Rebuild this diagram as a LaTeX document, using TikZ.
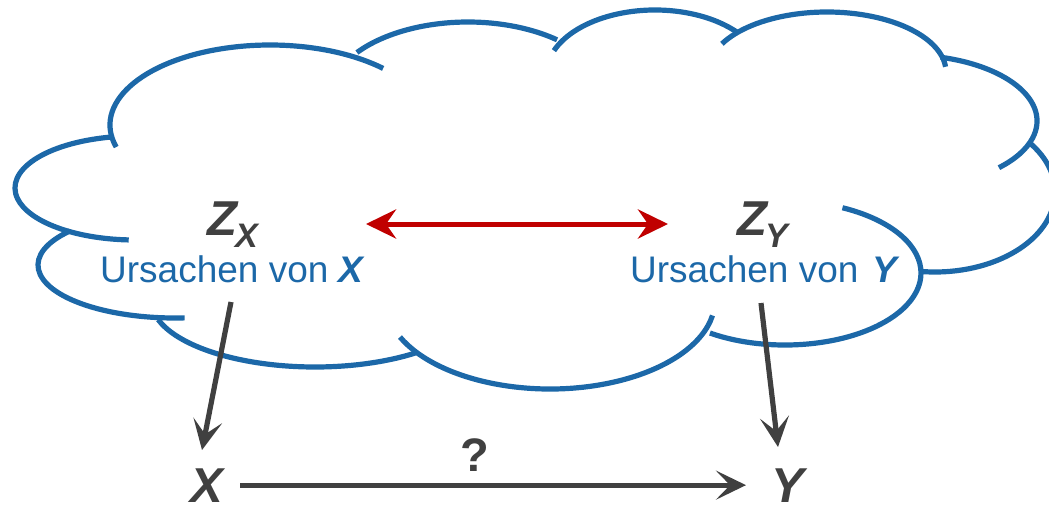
\documentclass[tikz,border=0pt]{standalone}
\usepackage{fontspec}
\setmainfont{Liberation Sans}
\usetikzlibrary{arrows.meta}

\definecolor{cloudblue}{RGB}{28,104,168}
\definecolor{ink}{RGB}{64,64,64}
\definecolor{linkred}{RGB}{192,0,0}

% one bump of the cloud: centre x, centre y (downwards), x radius, y radius, start angle, end angle
\newcommand\cloudlobe[6]{%
  \draw[cloudline] (#1,-#2) ++(#5:#3pt and #4pt)
    arc[start angle=#5,end angle=#6,x radius=#3pt,y radius=#4pt];}

\begin{document}
\begin{tikzpicture}[x=1pt,y=1pt,
  cloudline/.style={draw=cloudblue,line width=5.2pt},
  varlbl/.style={inner sep=0pt,text=ink,font=\fontsize{49}{50}\selectfont\bfseries\itshape},
  causelbl/.style={inner sep=0pt,text=cloudblue,font=\fontsize{37}{44}\selectfont},
  obslbl/.style={inner sep=0pt,text=ink,font=\fontsize{49}{50}\selectfont\bfseries\itshape},
  grayarrow/.style={draw=ink,line width=5.2pt,-{Stealth[length=30pt,width=29pt,inset=14pt]}},
  redarrow/.style={draw=linkred,line width=5pt,
    {Stealth[length=30pt,width=29pt,inset=10pt]}-{Stealth[length=30pt,width=29pt,inset=10pt]}}
]
\useasboundingbox (0,0) rectangle (1049,-508);
\clip (0,0) rectangle (1049,-508);

% cloud outline, bump by bump
\cloudlobe{135}{188}{120}{52}{102}{267}
\cloudlobe{175}{265}{137}{53}{140}{274}
\cloudlobe{315}{300}{164}{67}{197}{308}
\cloudlobe{550}{300}{165}{89}{204.6}{350}
\cloudlobe{785}{273}{136}{72}{236.5}{425}
\cloudlobe{935}{192}{120}{80}{39}{-97}
\cloudlobe{907}{121}{130}{66}{75}{-45}
\cloudlobe{827}{72}{119}{60}{152}{5}
\cloudlobe{655}{75}{109}{65}{158}{40}
\cloudlobe{468}{100}{140}{78}{142.5}{50.5}
\cloudlobe{270}{125}{160}{80}{196}{45}

% labels inside the cloud
\node[varlbl,anchor=base west] (zx) at (207,-235)
  {Z\kern-2pt\raisebox{-12pt}{\fontsize{34}{34}\selectfont X}};
\node[varlbl,anchor=base west] (zy) at (737,-235)
  {Z\kern-2pt\raisebox{-12pt}{\fontsize{34}{34}\selectfont Y}};
\node[causelbl,anchor=base west] (ux) at (100,-282)
  {Ursachen von \textbf{\textit{X}}};
\node[causelbl,anchor=base west] (uy) at (630,-282)
  {Ursachen von \kern4pt\textbf{\textit{Y}}};

% observed variables
\node[obslbl,anchor=base west] (x) at (190,-502) {X};
\node[obslbl,anchor=base west] (y) at (771,-502) {Y};
\node[inner sep=0pt,text=ink,font=\fontsize{47}{48}\selectfont\bfseries] (q) at (475,-455.5) {?};

% arrow end points
\coordinate (redL) at (366,-224);
\coordinate (redR) at (668,-224);
\coordinate (zxout) at (231,-302);
\coordinate (xin) at (202,-450);
\coordinate (zyout) at (761,-303);
\coordinate (yin) at (778,-447);

% connectors
\draw[redarrow] (redL) -- (redR);
\draw[grayarrow] (zxout) -- (xin);
\draw[grayarrow] (zyout) -- (yin);
\draw[grayarrow,shorten <=17pt,shorten >=25pt] (x.east) -- (y.west);
\end{tikzpicture}
\end{document}
